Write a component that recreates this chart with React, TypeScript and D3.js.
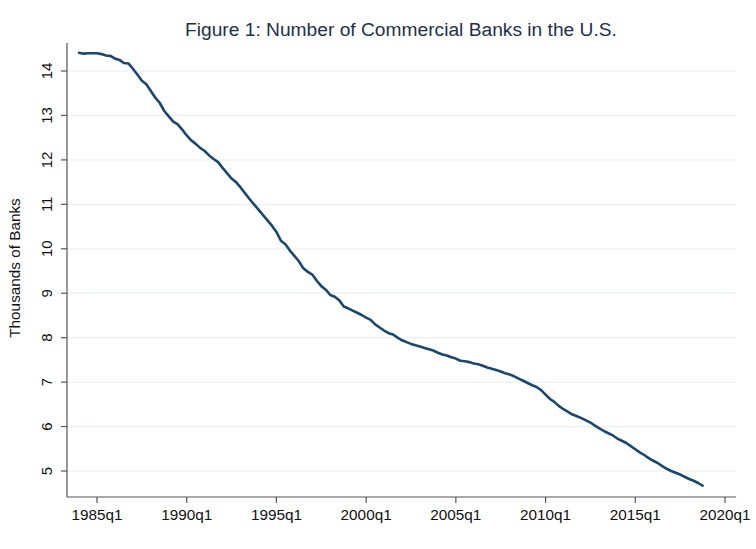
import React from "react";
import * as d3 from "d3";

const startYear = 1984;
const banks: number[] = [
  14.41, 14.39, 14.40, 14.40,
  14.40, 14.38, 14.35, 14.34,
  14.28, 14.25, 14.18, 14.17,
  14.05, 13.92, 13.78, 13.70,
  13.55, 13.40, 13.28, 13.10,
  12.98, 12.86, 12.80, 12.68,
  12.55, 12.44, 12.36, 12.27,
  12.20, 12.10, 12.02, 11.95,
  11.82, 11.70, 11.58, 11.50,
  11.38, 11.25, 11.12, 11.00,
  10.88, 10.76, 10.64, 10.52,
  10.38, 10.18, 10.10, 9.96,
  9.84, 9.72, 9.56, 9.48,
  9.42, 9.28, 9.16, 9.08,
  8.96, 8.92, 8.84, 8.70,
  8.66, 8.61, 8.56, 8.51,
  8.45, 8.40, 8.30, 8.23,
  8.16, 8.10, 8.07, 8.00,
  7.94, 7.90, 7.86, 7.83,
  7.80, 7.77, 7.74, 7.71,
  7.66, 7.62, 7.60, 7.56,
  7.53, 7.48, 7.47, 7.45,
  7.42, 7.40, 7.37, 7.33,
  7.30, 7.27, 7.24, 7.20,
  7.17, 7.13, 7.08, 7.03,
  6.98, 6.93, 6.89, 6.82,
  6.72, 6.62, 6.55, 6.46,
  6.39, 6.33, 6.27, 6.23,
  6.19, 6.14, 6.09, 6.02,
  5.96, 5.90, 5.85, 5.80,
  5.73, 5.68, 5.63, 5.56,
  5.49, 5.42, 5.36, 5.29,
  5.23, 5.18, 5.11, 5.05,
  5.00, 4.96, 4.92, 4.87,
  4.82, 4.78, 4.73, 4.67,
];

const xTickYears: number[] = [1985, 1990, 1995, 2000, 2005, 2010, 2015, 2020];
const xTickLabels: string[] = xTickYears.map((y) => `${y}q1`);
const yTicks: number[] = [5, 6, 7, 8, 9, 10, 11, 12, 13, 14];

const title = "Figure 1: Number of Commercial Banks in the U.S.";
const yTitle = "Thousands of Banks";

const W = 756;
const H = 549;
const axisLeft = 67;
const axisRight = 736;
const axisBottom = 497;
const axisTop = 43;
const font = "'Liberation Sans', Arial, Helvetica, sans-serif";

export default function App() {
  const x = d3.scaleLinear().domain([1985, 2020]).range([97, 725]);
  const y = d3.scaleLinear().domain([5, 14]).range([471, 71]);
  const pts = banks.map((v, i) => ({ t: startYear + i * 0.25, v }));
  const line = d3
    .line<{ t: number; v: number }>()
    .x((d) => x(d.t))
    .y((d) => y(d.v));

  return (
    <svg
      width={W}
      height={H}
      style={{ position: "absolute", left: 0, top: 0, display: "block", background: "#fff" }}
      fontFamily={font}
    >
      <rect x={0} y={0} width={W} height={H} fill="#fff" />
      {yTicks.map((t) => (
        <line key={"g" + t} x1={axisLeft} x2={axisRight} y1={y(t)} y2={y(t)} stroke="#eaf0f2" strokeWidth={1.2} />
      ))}
      <path d={line(pts) || ""} fill="none" stroke="#1a476f" strokeWidth={2.6} strokeLinejoin="round" strokeLinecap="round" />
      <line x1={axisLeft} x2={axisLeft} y1={axisTop} y2={axisBottom} stroke="#555" strokeWidth={1.2} />
      <line x1={axisLeft} x2={axisRight} y1={axisBottom} y2={axisBottom} stroke="#555" strokeWidth={1.2} />
      {yTicks.map((t) => (
        <g key={"y" + t}>
          <line x1={axisLeft - 6} x2={axisLeft} y1={y(t)} y2={y(t)} stroke="#555" strokeWidth={1.2} />
          <text
            transform={`translate(52,${y(t)}) rotate(-90)`}
            textAnchor="middle"
            fontSize={15}
            fill="#111"
          >
            {t}
          </text>
        </g>
      ))}
      {xTickYears.map((t, i) => (
        <g key={"x" + t}>
          <line x1={x(t)} x2={x(t)} y1={axisBottom} y2={axisBottom + 6} stroke="#555" strokeWidth={1.2} />
          <text x={x(t)} y={520} textAnchor="middle" fontSize={15.3} fill="#111">
            {xTickLabels[i]}
          </text>
        </g>
      ))}
      <text transform={`translate(20,268) rotate(-90)`} textAnchor="middle" fontSize={15.3} fill="#111">
        {yTitle}
      </text>
      <text x={401} y={36} textAnchor="middle" fontSize={19.2} fill="#1e2f4f">
        {title}
      </text>
    </svg>
  );
}
